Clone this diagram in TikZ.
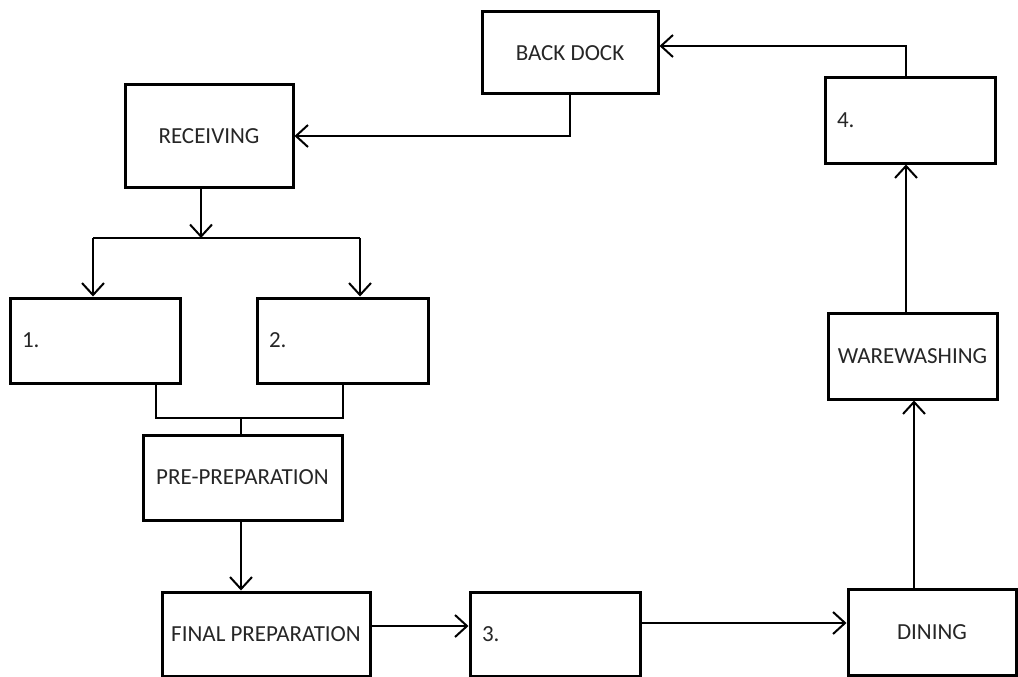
\documentclass[tikz,border=0pt]{standalone}
\usepackage{fontspec}
\setmainfont{Carlito}
\usetikzlibrary{arrows.meta}
\begin{document}
\begin{tikzpicture}[x=1pt,y=-1pt,
  box/.style={draw=black, line width=3pt, rectangle, inner sep=0pt,
    font=\fontsize{23}{27}\selectfont, text=black!85},
  numbox/.style={box, inner xsep=12pt, align=left},
  conn/.style={draw=black, line width=2.2pt},
  arr/.style={conn, -{Straight Barb[length=12pt,width=22pt,line width=2pt]}}
]
\useasboundingbox (0,0) rectangle (1018,677);
% boxes
\node[box, minimum width=176pt, minimum height=82pt] (bd) at (570,53) {BACK DOCK};
\node[box, minimum width=168pt, minimum height=102pt] (rec) at (209,136) {RECEIVING};
\node[numbox, text width=146pt, minimum height=85pt] (b4) at (910,120.5) {4.};
\node[numbox, text width=146pt, minimum height=85pt] (b1) at (95,340.5) {1.};
\node[numbox, text width=147pt, minimum height=85pt] (b2) at (342.5,340.5) {2.};
\node[box, minimum width=199pt, minimum height=85pt] (pp) at (242.5,477.5) {PRE-PREPARATION};
\node[box, minimum width=169pt, minimum height=86pt] (ww) at (912.5,356) {WAREWASHING};
\node[box, minimum width=208pt, minimum height=84pt] (fp) at (266,634) {FINAL PREPARATION};
\node[numbox, text width=146pt, minimum height=84pt] (b3) at (555,634) {3.};
\node[box, minimum width=168pt, minimum height=86pt] (dn) at (932,632) {DINING};
% coordinates
\coordinate (split) at (201,238);
\coordinate (barL) at (93,238);
\coordinate (barR) at (360,238);
\coordinate (jL) at (156,418);
\coordinate (jR) at (343,418);
\coordinate (join) at (241,418);
\coordinate (up1) at (914,0);
\coordinate (up2) at (906,0);
\coordinate (top4) at (906,46);
% connectors
\draw[arr] (bd.south) |- (rec.east);
\draw[arr] (b4.north -| top4) -- (top4) -- (top4 -| bd.east);
\draw[arr] (rec.south -| split) -- (split);
\draw[conn] (barL) -- (barR);
\draw[arr] (barL) -- (b1.north -| barL);
\draw[arr] (barR) -- (b2.north -| barR);
\draw[conn] (b1.south -| jL) -- (jL) -- (jR) -- (b2.south -| jR);
\draw[conn] (join) -- (pp.north -| join);
\draw[arr] (pp.south -| join) -- (fp.north -| join);
\draw[arr] ([yshift=8pt]fp.east) -- ([yshift=8pt]fp.east -| b3.west);
\draw[arr, line width=2.6pt] ([yshift=11pt]b3.east) -- ([yshift=11pt]b3.east -| dn.west);
\draw[arr] (dn.north -| up1) -- (ww.south -| up1);
\draw[arr] (ww.north -| up2) -- (b4.south -| up2);
\end{tikzpicture}
\end{document}
